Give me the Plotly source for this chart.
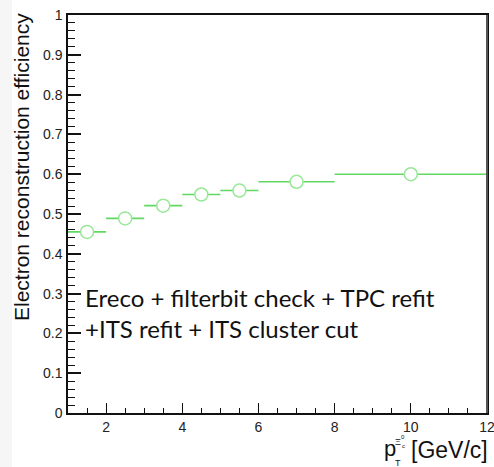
import plotly.graph_objects as go

bin_lo = [1, 2, 3, 4, 5, 6, 8]
bin_hi = [2, 3, 4, 5, 6, 8, 12]
efficiency = [0.455, 0.489, 0.521, 0.549, 0.559, 0.581, 0.600]
y_ticks = [0, 0.1, 0.2, 0.3, 0.4, 0.5, 0.6, 0.7, 0.8, 0.9, 1]
y_tick_text = ["0", "0.1", "0.2", "0.3", "0.4", "0.5", "0.6", "0.7", "0.8", "0.9", "1"]
x_ticks = [2, 4, 6, 8, 10, 12]

centers = [(a + b) / 2 for a, b in zip(bin_lo, bin_hi)]
half = [(b - a) / 2 for a, b in zip(bin_lo, bin_hi)]

W, H = 494, 467
L, R, T, B = 68, 7, 15, 54

fig = go.Figure()
fig.add_trace(go.Scatter(
    x=centers, y=efficiency, mode="markers",
    error_x=dict(type="data", array=half, symmetric=True, width=0,
                 color="#62d862", thickness=1.6),
    marker=dict(symbol="circle", size=13, color="white",
                line=dict(color="#98e898", width=1.5)),
    showlegend=False, hoverinfo="skip"))

tf = "Liberation Sans, Arial, sans-serif"
font_tick = dict(family=tf, size=14, color="#222")

fig.update_layout(
    width=W, height=H,
    margin=dict(l=L, r=R, t=T, b=B, autoexpand=False),
    paper_bgcolor="white", plot_bgcolor="white",
    xaxis=dict(range=[1, 12], tickvals=x_ticks, ticks="inside", ticklen=10,
               tickcolor="#111", tickwidth=1.2, showgrid=False, zeroline=False,
               showline=True, linecolor="#111", linewidth=1.5, mirror=True,
               tickfont=font_tick, ticklabeloverflow="allow",
               minor=dict(ticks="inside", ticklen=5, dtick=0.5, tick0=1,
                          tickcolor="#111", tickwidth=1.2, showgrid=False)),
    yaxis=dict(range=[0, 1], tickvals=y_ticks, ticktext=y_tick_text,
               ticks="inside", ticklen=13, tickcolor="#111", tickwidth=1.5,
               showgrid=False, zeroline=False, showline=True, linecolor="#111",
               linewidth=1.5, mirror=True, tickfont=font_tick, ticklabelstandoff=1,
               ticklabeloverflow="allow",
               minor=dict(ticks="inside", ticklen=7, dtick=0.02, tick0=0,
                          tickcolor="#111", tickwidth=1.2, showgrid=False)),
)

pw = W - L - R
ph = H - T - B
def px(xpix):
    return (xpix - L) / pw
def py(ypix):
    return (H - B - ypix) / ph

# faint grey strip on left edge
fig.add_shape(type="rect", xref="paper", yref="paper", x0=px(0), x1=px(12),
              y0=py(H), y1=py(0), fillcolor="#f6f6f6", line=dict(width=0), layer="below")

# right frame (grey, slightly thicker)
fig.add_shape(type="line", xref="paper", yref="paper", x0=1, x1=1, y0=0, y1=1,
              line=dict(color="#555", width=2))

# y title
fig.add_annotation(text="Electron reconstruction efficiency", xref="paper", yref="paper",
                   x=px(22), y=py(11), xanchor="center", yanchor="top",
                   textangle=-90, showarrow=False,
                   font=dict(family=tf, size=21, color="#111"))

def small(text, xp, yp, size):
    fig.add_annotation(text=text, xref="paper", yref="paper", x=px(xp), y=py(yp),
                       xanchor="left", yanchor="middle", showarrow=False, borderpad=0,
                       font=dict(family=tf, size=size, color="#111"))

# x title pieces
fig.add_annotation(text="[GeV/c]", xref="paper", yref="paper", x=px(490), y=py(450),
                   xanchor="right", yanchor="middle", showarrow=False,
                   font=dict(family=tf, size=23, color="#111"))
fig.add_annotation(text="p", xref="paper", yref="paper", x=px(382), y=py(448),
                   xanchor="left", yanchor="middle", showarrow=False,
                   font=dict(family=tf, size=22, color="#111"))
small("T", 394, 463, 9)
small("Ξ", 394, 442, 9)
small("c", 401, 446, 6)
small("0", 400, 437, 6)

# overlay text
tx = "Lato, Carlito, sans-serif"
fig.add_annotation(text="Ereco + filterbit check + TPC refit", xref="paper", yref="paper",
                   x=px(83), y=py(297), xanchor="left", yanchor="middle", showarrow=False,
                   font=dict(family=tx, size=24, color="#111"))
fig.add_annotation(text="+ITS refit + ITS cluster cut", xref="paper", yref="paper",
                   x=px(83), y=py(328), xanchor="left", yanchor="middle", showarrow=False,
                   font=dict(family=tx, size=24, color="#111"))

fig.write_html("out.html", config={"displayModeBar": False},
               post_script="document.body.style.margin='0';document.body.style.padding='0';")
